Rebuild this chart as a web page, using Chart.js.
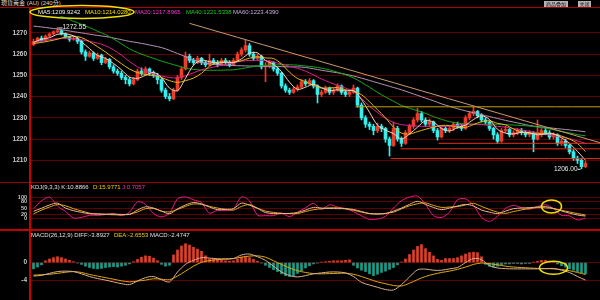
<!DOCTYPE html>
<html>
<head>
<meta charset="utf-8">
<script src="https://cdn.jsdelivr.net/npm/chart.js@4.4.1/dist/chart.umd.min.js"></script>
<style>
  html, body { margin: 0; padding: 0; background: #000; }
  #wrap { position: relative; width: 600px; height: 300px; overflow: hidden; background: #000;
          font-family: "Liberation Sans", "Noto Sans CJK TC", sans-serif; }
  .pane { position: absolute; left: 0; width: 600px; }
  .txt { position: absolute; white-space: nowrap; font-size: 6px; line-height: 7px; }
  .rule { position: absolute; }
  .btn { position: absolute; top: 1px; height: 6px; background: #b4b4b4; color: #111;
         font-size: 5px; line-height: 6px; text-align: center; }
</style>
</head>
<body>
<div id="wrap">
  <div class="pane" style="top:8px;height:174px"><canvas id="price"></canvas></div>
  <div class="pane" style="top:183px;height:46px"><canvas id="kdj"></canvas></div>
  <div class="pane" style="top:231px;height:69px"><canvas id="macd"></canvas></div>

  <!-- frame -->
  <div class="rule" style="left:0;top:7px;width:600px;height:1px;background:#b00000"></div>
  <div class="rule" style="left:0;top:182px;width:600px;height:1px;background:#a00000"></div>
  <div class="rule" style="left:0;top:229px;width:600px;height:2px;background:#c00000"></div>
  <div class="rule" style="left:29px;top:8px;width:2px;height:292px;background:#c80000"></div>

  <div class="txt" style="left:1px;top:0;font-size:6px;color:#d8d8d8">現貨黃金 (AU) (240分)</div>
  <div class="btn" style="left:544px;width:24px">商品叠加</div>
  <div class="btn" style="left:578px;width:13px">关闭</div>

  <div class="txt" style="left:38px;top:9px;color:#f0f0f0">MA5:1209.9242</div>
  <div class="txt" style="left:85px;top:9px;color:#f0e000">MA10:1214.0280</div>
  <div class="txt" style="left:135px;top:9px;color:#ff30d0">MA20:1217.8965</div>
  <div class="txt" style="left:186px;top:9px;color:#20c820">MA40:1221.5338</div>
  <div class="txt" style="left:233px;top:9px;color:#c8a8d8">MA60:1223.4390</div>
  <svg style="position:absolute;left:28px;top:4px" width="108" height="16">
    <ellipse cx="54" cy="8" rx="52" ry="6.5" fill="none" stroke="#f0e000" stroke-width="1.5"/>
  </svg>

  <div class="txt" style="left:31px;top:184px;color:#e0e0e0">KDJ(9,3,3) K:10.8866</div>
  <div class="txt" style="left:93px;top:184px;color:#f0d000">D:15.9771</div>
  <div class="txt" style="left:122px;top:184px;color:#ff30b0">J:0.7057</div>

  <div class="txt" style="left:31px;top:232px;color:#e0e0e0">MACD(26,12,9) DIFF:-3.8927</div>
  <div class="txt" style="left:114px;top:232px;color:#f0d000">DEA:-2.6553</div>
  <div class="txt" style="left:150px;top:232px;color:#e0e0e0">MACD:-2.4747</div>
</div>

<script>
// 240-minute bars
const opens = [
  1264.5,1266,1267.5,1266.5,1268.5,1269.5,1270.5,1271,1269.5,1268,
  1267,1267.5,1266,1261,1259,1260.5,1258,1259.5,1256,1257.5,
  1254,1252,1251,1249,1248,1246,1248,1252,1251,1253,
  1251,1250,1248,1243,1240,1239,1243,1249,1253,1259,
  1257,1256,1258,1256,1255,1257,1256,1255,1257,1256,
  1255,1257,1260,1262,1264,1260,1258,1259,1254,1254.5,
  1256,1253,1251,1245,1243,1242,1243.5,1244.5,1247,1246,
  1247.5,1245,1241,1242,1244,1242,1243,1245,1242,1241,
  1242,1244,1236,1230,1227,1226,1224,1226,1225,1220,
  1217,1225,1220,1218,1223,1226,1229,1232,1229,1227,
  1228,1224,1221,1225,1224,1225,1227,1226,1225,1230,
  1232,1233,1231,1229,1228,1225,1222,1219,1224,1224.5,
  1222,1223,1224,1223,1222,1223,1220,1222,1224,1223,
  1221,1222,1218,1219,1217,1214,1211,1210,1207
];
const closes = [
  1266,1267.5,1266.5,1268.5,1269.5,1270.5,1271,1269.5,1268,1267,
  1267.5,1266,1261,1259,1260.5,1258,1259.5,1256,1257.5,1254,
  1252,1251,1249,1248,1246,1248,1252,1251,1253,1251,
  1250,1248,1243,1240,1239,1243,1249,1253,1259,1257,
  1256,1258,1256,1255,1257,1256,1255,1257,1256,1255,
  1257,1260,1262,1264,1260,1258,1259,1254,1254.5,1256,
  1253,1251,1245,1243,1242,1243.5,1244.5,1247,1246,1247.5,
  1245,1241,1242,1244,1242,1243,1245,1242,1241,1242,
  1244,1236,1230,1227,1226,1224,1226,1225,1220,1217,
  1225,1220,1218,1223,1226,1229,1232,1229,1227,1228,
  1224,1221,1225,1224,1225,1227,1226,1225,1230,1232,
  1233,1231,1229,1228,1225,1222,1219,1224,1224.5,1222,
  1223,1224,1223,1222,1223,1220,1222,1224,1223,1221,
  1222,1218,1219,1217,1214,1211,1210,1207,1208.5
];
const highs = [
  1267,1268,1268.5,1269,1270,1271,1272.55,1271.5,1270,1268.5,
  1268.5,1268,1266.5,1262,1261.5,1261,1260.5,1260,1258.5,1258,
  1255,1253,1252,1250,1249,1249,1253,1253.5,1254,1253.5,
  1252,1251,1248.5,1244,1241.5,1244,1250,1254,1261,1260,
  1258,1259,1258.5,1257,1260,1258,1257,1258,1258,1257,
  1258,1261,1263,1266.6,1265,1261,1260,1259.5,1256,1257,
  1256.5,1254,1251.5,1246,1244,1244.5,1245.5,1248,1248,1248.5,
  1248,1245.5,1243,1245,1244.5,1244,1246,1245.5,1243,1243,
  1245.5,1244.5,1237,1231,1228,1227,1227.5,1227,1225.5,1221,
  1228,1226,1221,1224,1227,1230,1234.5,1233,1230,1229.5,
  1228.5,1225,1226,1226,1226,1228,1228,1227,1231,1233,
  1235,1233.5,1232,1230,1228.5,1225.5,1223,1225,1226,1225,
  1224,1225,1225,1224,1224,1223.5,1229,1225,1225,1224,
  1223,1222.5,1220,1220,1217.5,1215,1212,1211,1209.5
];
const lows = [
  1264,1265.5,1266,1266,1268,1269,1270,1269,1267.5,1266,
  1266.5,1265,1260,1257,1258.5,1257,1257.5,1255,1255.5,1253,
  1251,1250,1248,1246,1245,1245.5,1247.5,1250,1250.5,1250,
  1249,1246,1242,1239,1238,1238.5,1242.5,1248,1252.5,1256,
  1255,1255.5,1255,1254,1254.5,1255,1254,1254.5,1255,1254,
  1254.5,1256.5,1259,1261,1259,1257,1257,1253,1247,1253.5,
  1252,1250,1244,1242,1241,1241.5,1242.5,1244,1245,1245.5,
  1244,1237,1240,1241.5,1241,1241,1242.5,1241,1240,1240,
  1241.5,1235,1229,1225.5,1224.5,1222,1223,1223.5,1218.5,1212,
  1216.5,1219,1216.5,1217.5,1222,1225,1228,1228,1226,1226,
  1223,1219.5,1220.5,1223,1223,1224,1225,1224,1224.5,1229,
  1231,1230,1228,1227,1224,1220,1218,1218.5,1223,1221,
  1221,1222,1222,1221,1221,1214,1219.5,1221,1222,1220,
  1220,1217,1217,1216,1213,1210,1208.5,1206,1206.5
];

// moving averages, KDJ and MACD lines, read every second bar
const ma5 = [
  1265.5,1267,1267.7,1269.3,1269.6,1268.6,1265.8,1262.6,1259.4,1258,
  1255.6,1252.6,1249.2,1248.6,1250,1251.4,1249,1244,1242.8,1248.6,
  1254.8,1257.2,1256.4,1255.8,1256.2,1256,1257.8,1260.4,1260.6,1257,
  1255.2,1251.8,1246.8,1243.4,1244.4,1245.8,1244.2,1242.8,1243.2,1242.6,
  1242.8,1238.6,1232.6,1226.6,1224.2,1222.6,1220,1222.4,1225.6,1228.6,
  1228,1225,1223.8,1225.4,1226.6,1229.2,1231,1229.2,1224.6,1222.8,
  1222.4,1223.2,1223,1222,1222.4,1222.4,1220.6,1218,1214.2,1210
];
const ma10 = [
  1265,1265.5,1266.2,1267,1268,1268.5,1267.8,1265.9,1263.5,1261,
  1258.2,1255.5,1253,1251.3,1250.4,1249.9,1249,1247.5,1246.7,1247.5,
  1248.7,1251,1254.3,1256.2,1256.3,1256.2,1256.9,1258.1,1258.7,1258.2,
  1257.9,1255.4,1251.5,1248.5,1247,1245.3,1244,1244.1,1244.2,1243.2,
  1242.6,1240.9,1237.6,1233.8,1230,1225.6,1222.8,1222.4,1223.5,1224.6,
  1225.6,1226.4,1226.4,1225.6,1225.5,1226.8,1228.2,1228.6,1227.4,1226.7,
  1224.7,1223.4,1222.6,1222.7,1222.6,1222.4,1221.4,1220,1217.9,1214.1
];
const ma20 = [
  1265.5,1266.2,1266.8,1267.3,1267.5,1267.3,1266.8,1266,1265.2,1264,
  1262,1259.5,1256.5,1254,1252.2,1250.7,1249.7,1249,1248.8,1249.8,
  1251.2,1252.6,1253.5,1254.3,1255.2,1255.9,1256.7,1257,1257.1,1257,
  1256.3,1255.3,1254.3,1253.3,1252,1250.2,1248.3,1246.7,1245.3,1244,
  1242.5,1239,1235.5,1232.5,1229.8,1227.8,1226.8,1226.4,1226.1,1226,
  1226,1226,1226,1226.5,1227,1227,1226.8,1226.4,1226,1225.6,
  1225,1224.3,1223.6,1223,1222.3,1221.6,1220.9,1220.2,1219.1,1217.9
];
const ma40 = [
  1283,1281.5,1280,1278.5,1277,1275.5,1274,1272.5,1270.8,1269.2,
  1267.2,1264.8,1262.5,1260.7,1259.3,1258,1256.7,1255.6,1254.5,1253.4,
  1252.8,1252.5,1252.4,1252.4,1252.5,1252.6,1253.2,1253.8,1254.4,1254.7,
  1254.9,1255,1255,1254.8,1254.4,1254,1253.4,1252.6,1251.5,1250.3,
  1248.8,1246.7,1244.4,1242,1239.8,1237.8,1235.8,1234.5,1233.4,1232.1,
  1230.6,1229.3,1228.2,1227.5,1227.1,1227,1227,1227,1227,1226.8,
  1226.6,1226.4,1226.1,1225.7,1225.1,1224.4,1223.6,1222.9,1222.1,1221.5
];
const ma60 = [
  1273.2,1272.8,1272.3,1271.8,1271.2,1270.6,1270,1269.4,1268.8,1268.3,
  1267.6,1266.8,1266,1265.4,1264.7,1263.9,1263.1,1261.8,1260.3,1258.8,
  1257.3,1256,1255.5,1255.1,1254.8,1254.6,1254.5,1254.4,1254.4,1254.3,
  1254.2,1254.1,1254,1254,1253.7,1253.1,1252.4,1251.8,1251.2,1250.5,
  1249.7,1248.7,1247.6,1246.5,1245.4,1244.3,1243.2,1241.9,1240.6,1239.3,
  1238,1236.6,1235.4,1234.3,1233.3,1232.4,1231.5,1230.6,1229.7,1228.8,
  1228,1227.2,1226.4,1225.9,1225.5,1225.1,1224.7,1224.3,1223.9,1223.4
];
const kdjK = [
  34,49,65,74,50,37,29,22,21,20,
  20,19,19,40,56,50,35,22,46,65,
  77,70,55,42,44,47,74,64,48,28,
  23,23,24,28,40,53,50,48,47,47,
  43,33,23,22,23,35,50,68,83,68,
  53,42,50,60,68,60,40,30,23,35,
  47,50,52,55,57,48,36,25,16,11
];
const kdjD = [
  22,40,55,67,61,47,36,25,21,19,
  17,17,20,31,47,48,35,31,43,58,
  70,68,58,50,44,40,58,67,50,35,
  29,24,23,23,33,42,47,51,51,46,
  39,30,23,20,24,30,46,61,71,75,
  63,53,55,57,65,73,58,43,30,24,
  33,41,48,52,51,47,39,31,23,16
];
const kdjJ = [
  47,85,103,60,33,2,4,15,14,18,
  23,13,30,80,68,23,7,25,95,104,
  90,77,25,39,38,47,104,85,15,13,
  13,26,8,30,51,73,43,66,55,48,
  32,12,-5,-4,10,50,86,104,108,68,
  13,4,30,90,95,63,5,-16,10,48,
  63,52,44,57,66,47,15,12,-8,1
];
const diffLine = [
  -3.0,-2.85,-2.4,-2.0,-1.9,-2.0,-2.5,-3.1,-3.55,-3.9,
  -4.3,-4.7,-4.9,-4.1,-3.35,-3.1,-3.8,-4.3,-2.1,-0.4,
  0.5,1.1,1.0,0.85,0.8,0.9,1.7,1.9,1.3,0.5,
  -0.8,-2.1,-2.9,-3.2,-2.9,-2.5,-2.3,-2.1,-2.1,-2.3,
  -3.1,-4.4,-5.0,-5.5,-6.0,-6.1,-4.9,-3.2,-1.6,-1.45,
  -1.7,-1.7,-1.4,-1.1,0.0,0.9,0.65,-0.7,-1.2,-1.35,
  -1.4,-1.4,-1.4,-1.4,-1.35,-1.3,-1.7,-2.2,-3.1,-3.9
];
const deaLine = [
  -2.8,-2.7,-2.6,-2.4,-2.15,-2.0,-2.2,-2.65,-3.0,-3.35,
  -3.7,-4.05,-4.3,-4.1,-3.9,-3.6,-3.7,-3.8,-3.0,-1.9,
  -0.8,0.05,0.45,0.65,0.8,0.9,1.2,1.45,1.5,1.2,
  0.4,-0.4,-1.2,-1.8,-2.2,-2.45,-2.5,-2.45,-2.4,-2.35,
  -2.6,-3.1,-3.7,-4.3,-4.7,-5.1,-5.2,-4.6,-3.8,-3.1,
  -2.6,-2.2,-1.9,-1.5,-1.0,-0.4,-0.1,-0.25,-0.5,-0.8,
  -1.0,-1.1,-1.2,-1.3,-1.35,-1.4,-1.55,-1.8,-2.2,-2.65
];
// MACD histogram, one value per bar
const macdHist = [
  -1.4,-1.0,-0.5,0.4,0.8,1.1,1.3,1.1,0.8,0.5,
  0.2,-0.1,-0.4,-0.8,-1.1,-1.3,-1.4,-1.3,-1.1,-1.0,
  -0.9,-1.0,-0.8,-0.6,-0.3,0.2,0.7,1.2,1.5,1.4,
  1.0,0.4,-0.4,-0.8,-0.6,1.7,2.8,3.7,4.2,3.9,
  3.4,3.0,2.5,1.5,0.8,0.9,0.8,0.6,0.4,0.3,
  0.4,0.8,1.2,1.3,1.1,0.7,0.3,-0.1,-0.6,-1.1,
  -1.6,-2.0,-2.5,-2.9,-3.1,-3.0,-2.4,-1.8,-1.2,-0.7,
  -0.3,-0.1,0.1,0.2,0.3,0.4,0.4,0.4,0.5,0.6,
  -0.6,-1.2,-1.7,-2.0,-2.5,-2.9,-2.6,-2.2,-1.9,-1.5,
  -1.1,-0.5,0.1,0.8,1.8,2.8,3.6,4.0,3.1,2.3,
  1.5,0.7,0.5,0.9,0.9,0.9,1.1,1.5,1.9,2.2,
  2.3,2.2,1.3,-0.4,-0.8,-1.0,-0.8,-0.5,-0.3,-0.3,
  -0.2,-0.2,-0.3,-0.2,-0.2,0.1,0.3,0.5,0.5,0.3,
  0.1,-0.3,-0.7,-1.0,-1.4,-1.7,-2.0,-2.3,-2.5
];

const priceTicks = [1210, 1220, 1230, 1240, 1250, 1260, 1270];
const kdjTicks = [0, 20, 50, 80, 100];
const macdTicks = [-4, 0];

// drawn lines, in bar index / price
const trendLine = [[39, 1274.5], [141.6, 1218.3]];
const levelStarts = [80.5, 101.25, 91.75, 89.25];
const levelValues = [1235.2, 1218.0, 1215.4, 1210.8];
// circled spots, in bar index / indicator value
const kdjMark = [129.5, 58];
const macdMark = [130, -1.15];

const xMin = -0.625, xMax = 141.625;
const UP = '#ee3c28', DOWN = '#36eeee';

function xAxis() {
  return { type: 'linear', min: xMin, max: xMax, display: false, offset: false };
}

function yAxis(min, max, ticks, fontSize) {
  return {
    min, max,
    afterFit: a => { a.width = 31; },
    afterBuildTicks: a => { a.ticks = ticks.map(v => ({ value: v })); },
    grid: { color: '#5e0000', lineWidth: 1, drawTicks: false },
    border: { display: false },
    ticks: {
      color: '#c8c8c8', padding: 4, autoSkip: false, callback: v => String(v),
      font: { size: fontSize, weight: 'bold', family: 'Liberation Sans' }
    }
  };
}

function every2(values) {
  return values.map((v, k) => ({ x: 2 * k, y: v }));
}

function line(data, color, order) {
  return { type: 'line', data, borderColor: color, borderWidth: 1, pointRadius: 0,
           tension: 0.3, fill: false, order };
}

function baseOptions(min, max, ticks, fontSize = 6.5) {
  return {
    responsive: true, maintainAspectRatio: false, animation: false, devicePixelRatio: 1,
    events: [],
    layout: { padding: 0 },
    plugins: { legend: { display: false }, tooltip: { enabled: false } },
    scales: { x: xAxis(), y: yAxis(min, max, ticks, fontSize) }
  };
}

function ring(center, rx, ry) {
  return {
    id: 'ring',
    afterDatasetsDraw(chart) {
      const { ctx, scales: { x, y } } = chart;
      ctx.save();
      ctx.strokeStyle = '#f0e000';
      ctx.lineWidth = 1.5;
      ctx.beginPath();
      ctx.ellipse(x.getPixelForValue(center[0]), y.getPixelForValue(center[1]), rx, ry, 0, 0, Math.PI * 2);
      ctx.stroke();
      ctx.restore();
    }
  };
}

// high / low price tags
const extremeTags = {
  id: 'extremeTags',
  afterDatasetsDraw(chart) {
    const { ctx, scales: { x, y } } = chart;
    const hi = highs.indexOf(Math.max(...highs));
    const lo = lows.indexOf(Math.min(...lows));
    ctx.save();
    ctx.font = '6.5px "Liberation Sans"';
    ctx.fillStyle = '#ececec';
    ctx.strokeStyle = '#ececec';
    ctx.lineWidth = 1;
    ctx.textBaseline = 'middle';

    let px = x.getPixelForValue(hi), py = y.getPixelForValue(highs[hi]);
    ctx.beginPath();
    ctx.moveTo(px + 1, py + 0.5); ctx.lineTo(px + 5, py + 0.5);
    ctx.stroke();
    ctx.textAlign = 'left';
    ctx.fillText(highs[hi].toFixed(2), px + 5, py);

    px = x.getPixelForValue(lo); py = y.getPixelForValue(lows[lo]);
    ctx.beginPath();
    ctx.moveTo(px - 1, py + 0.5); ctx.lineTo(px - 4, py + 0.5);
    ctx.stroke();
    ctx.textAlign = 'right';
    ctx.fillText(lows[lo].toFixed(2), px - 4, py);
    ctx.restore();
  }
};

const candleColors = closes.map((c, i) => c >= opens[i] ? UP : DOWN);

const levelSets = levelValues.map((v, i) => line(
  [{ x: levelStarts[i], y: v }, { x: xMax, y: v }],
  i === 0 ? '#c8a000' : '#e8301c', 1));

new Chart(document.getElementById('price'), {
  type: 'bar',
  data: {
    datasets: [
      line(trendLine.map(p => ({ x: p[0], y: p[1] })), '#c89a6c', 0),
      ...levelSets,
      line(every2(ma5), '#f2d8c0', 2),
      line(every2(ma10), '#e8b818', 3),
      line(every2(ma20), '#e0208c', 4),
      line(every2(ma40), '#14a81c', 5),
      line(every2(ma60), '#b494b8', 6),
      { type: 'bar', grouped: false, order: 10, barThickness: 3, minBarLength: 1,
        data: closes.map((c, i) => ({ x: i, y: [opens[i], c] })), backgroundColor: candleColors },
      { type: 'bar', grouped: false, order: 11, barThickness: 1,
        data: closes.map((c, i) => ({ x: i, y: [lows[i], highs[i]] })), backgroundColor: candleColors }
    ]
  },
  options: baseOptions(1203.5, 1278.0, priceTicks),
  plugins: [extremeTags]
});

new Chart(document.getElementById('kdj'), {
  type: 'line',
  data: {
    datasets: [
      line(every2(kdjJ), '#e0208c', 3),
      line(every2(kdjD), '#e0aa10', 2),
      line(every2(kdjK), '#e8b898', 1)
    ]
  },
  options: baseOptions(-16.7, 136.7, kdjTicks, 5.5),
  plugins: [ring(kdjMark, 10, 6.5)]
});

new Chart(document.getElementById('macd'), {
  type: 'bar',
  data: {
    datasets: [
      line(every2(deaLine), '#e0aa10', 1),
      line(every2(diffLine), '#dcb090', 0),
      { type: 'bar', grouped: false, order: 5, barThickness: 2,
        data: macdHist.map((v, i) => ({ x: i, y: v })),
        backgroundColor: macdHist.map(v => v >= 0 ? '#e0402a' : '#1a9c88') }
    ]
  },
  options: baseOptions(-6.57, 5.27, macdTicks),
  plugins: [ring(macdMark, 14, 6.5)]
});
</script>
</body>
</html>
